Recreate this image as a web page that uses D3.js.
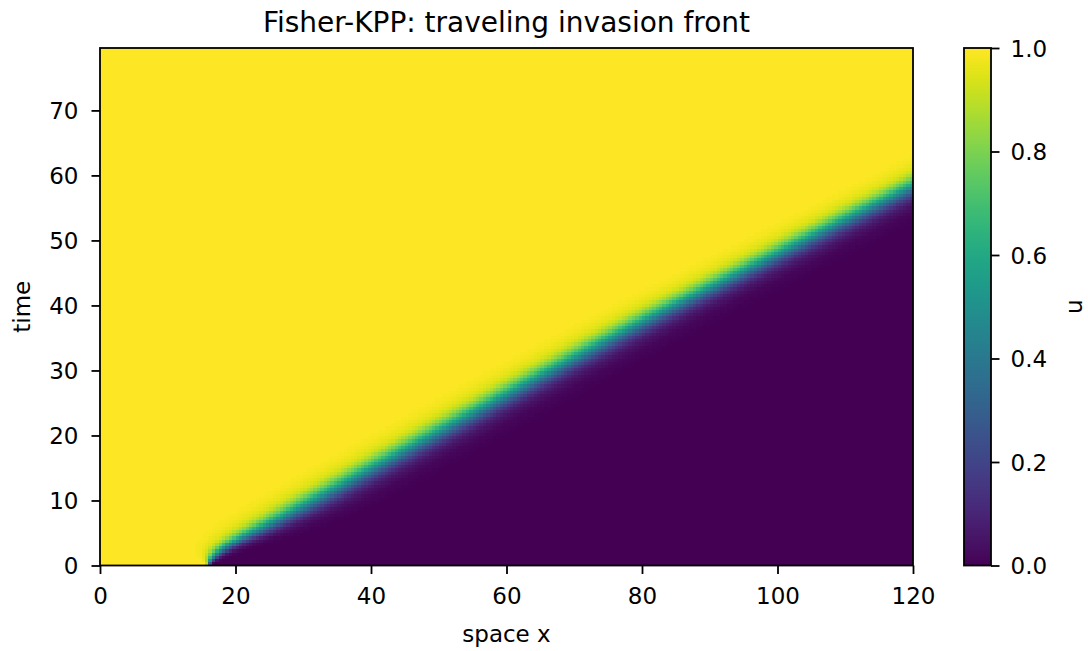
<!DOCTYPE html>
<html>
<head>
<meta charset="utf-8">
<script src="https://cdn.jsdelivr.net/npm/d3@7"></script>
<style>
  html, body { margin: 0; padding: 0; background: #fff; }
  svg { display: block; font-family: "DejaVu Sans", sans-serif; }
</style>
</head>
<body>
<svg id="chart" width="1088" height="651"></svg>
<script>
// Front position (u = 0.5 crossing) over time
const frontT = [0, 1, 2, 3, 5, 7.5, 10, 15, 20, 25, 30, 35, 40, 45, 50, 55, 60, 70, 80];
const frontX = [16, 16.4, 17.3, 18.6, 22.3, 27, 31.5, 40.3, 49.1, 57.8, 66.6, 75.6, 84.8, 94.5, 104, 113.6, 123.2, 142, 161];

// Early sharpening of the initial step: relative front width vs time
const widthT = [0, 1, 2, 3, 5, 8, 10, 20, 80];
const widthK = [0.05, 0.2, 0.35, 0.5, 0.75, 0.92, 0.97, 1, 1];

// Front profile: density u against distance from the u = 0.5 point
const profileXi = [-13, -10, -7.7, -5.5, -4.4, -3.3, -2.2, -1.1, 0, 1.1, 2.2, 3.3, 4.4, 5.5, 7.7, 10, 13];
const profileU  = [1, 0.996, 0.985, 0.955, 0.92, 0.85, 0.76, 0.64, 0.5, 0.36, 0.24, 0.15, 0.09, 0.05, 0.015, 0.005, 0];

// Axis ticks
const xTicks = [0, 20, 40, 60, 80, 100, 120];
const tTicks = [0, 10, 20, 30, 40, 50, 60, 70];
const uTicks = [0, 0.2, 0.4, 0.6, 0.8, 1.0];

// Simulation grid
const xMax = 120, tMax = 79.6;
const nx = 240, nt = 160;
const dx = xMax / nx, dt = tMax / nt;

const svg = d3.select("#chart");
const plot = { left: 100, right: 913, top: 48, bottom: 565.5 };
const cbar = { left: 964, right: 991 };
const fontSize = 23;

const x = d3.scaleLinear().domain([0, xMax]).range([plot.left, plot.right]);
const y = d3.scaleLinear().domain([0, tMax]).range([plot.bottom, plot.top]);
const color = d3.scaleSequential(d3.interpolateViridis).domain([0, 1]);

const front = d3.scaleLinear().domain(frontT).range(frontX);
const widthAt = d3.scaleLinear().domain(widthT).range(widthK).clamp(true);
const profile = d3.scaleLinear().domain(profileXi).range(profileU).clamp(true);

// Field cells
const cells = [];
for (let j = 0; j < nt; j++) {
  const tc = (j + 0.5) * dt;
  const xf = front(tc), k = widthAt(tc);
  for (let i = 0; i < nx; i++) {
    const xc = (i + 0.5) * dx;
    cells.push({ i, j, u: profile((xc - xf) / k) });
  }
}

svg.append("g")
  .attr("shape-rendering", "crispEdges")
  .selectAll("rect")
  .data(cells)
  .join("rect")
  .attr("x", d => x(d.i * dx))
  .attr("y", d => y((d.j + 1) * dt))
  .attr("width", d => x((d.i + 1) * dx) - x(d.i * dx))
  .attr("height", d => y(d.j * dt) - y((d.j + 1) * dt))
  .attr("fill", d => color(d.u));

// Plot frame
svg.append("rect")
  .attr("x", plot.left).attr("y", plot.top)
  .attr("width", plot.right - plot.left).attr("height", plot.bottom - plot.top)
  .attr("fill", "none").attr("stroke", "#000").attr("stroke-width", 1.8);

// Axes
const xAxis = svg.append("g")
  .attr("transform", `translate(0,${plot.bottom})`)
  .call(d3.axisBottom(x).tickValues(xTicks).tickSize(8.5).tickPadding(14).tickFormat(d3.format("d")));
const yAxis = svg.append("g")
  .attr("transform", `translate(${plot.left},0)`)
  .call(d3.axisLeft(y).tickValues(tTicks).tickSize(8.5).tickPadding(13).tickFormat(d3.format("d")));

[xAxis, yAxis].forEach(g => {
  g.select(".domain").remove();
  g.selectAll(".tick line").attr("stroke", "#000").attr("stroke-width", 1.8);
  g.selectAll(".tick text").attr("fill", "#000").style("font-size", fontSize + "px").style("font-family", "DejaVu Sans");
});
yAxis.selectAll(".tick text").attr("dy", "0.36em");

// Colorbar
const cy = d3.scaleLinear().domain([0, 1]).range([plot.bottom, plot.top]);
const defs = svg.append("defs");
const grad = defs.append("linearGradient").attr("id", "viridisGrad")
  .attr("x1", 0).attr("y1", 1).attr("x2", 0).attr("y2", 0);
grad.selectAll("stop")
  .data(d3.range(0, 1.0001, 1 / 64))
  .join("stop")
  .attr("offset", d => d)
  .attr("stop-color", d => color(d));

svg.append("rect")
  .attr("x", cbar.left).attr("y", plot.top)
  .attr("width", cbar.right - cbar.left).attr("height", plot.bottom - plot.top)
  .attr("fill", "url(#viridisGrad)")
  .attr("stroke", "#000").attr("stroke-width", 1.8);

const cAxis = svg.append("g")
  .attr("transform", `translate(${cbar.right},0)`)
  .call(d3.axisRight(cy).tickValues(uTicks).tickSize(8.5).tickPadding(11).tickFormat(d3.format(".1f")));
cAxis.select(".domain").remove();
cAxis.selectAll(".tick line").attr("stroke", "#000").attr("stroke-width", 1.8);
cAxis.selectAll(".tick text").attr("fill", "#000").attr("dy", "0.36em")
  .style("font-size", fontSize + "px").style("font-family", "DejaVu Sans");

// Labels
svg.append("text")
  .attr("x", (plot.left + plot.right) / 2).attr("y", 32)
  .attr("text-anchor", "middle")
  .style("font-size", "28px")
  .text("Fisher-KPP: traveling invasion front");

svg.append("text")
  .attr("x", (plot.left + plot.right) / 2).attr("y", 642)
  .attr("text-anchor", "middle")
  .style("font-size", fontSize + "px")
  .text("space x");

svg.append("text")
  .attr("transform", `translate(30,${(plot.top + plot.bottom) / 2}) rotate(-90)`)
  .attr("text-anchor", "middle")
  .style("font-size", fontSize + "px")
  .text("time");

svg.append("text")
  .attr("transform", `translate(1082,${(plot.top + plot.bottom) / 2}) rotate(-90)`)
  .attr("text-anchor", "middle")
  .style("font-size", fontSize + "px")
  .text("u");
</script>
</body>
</html>
